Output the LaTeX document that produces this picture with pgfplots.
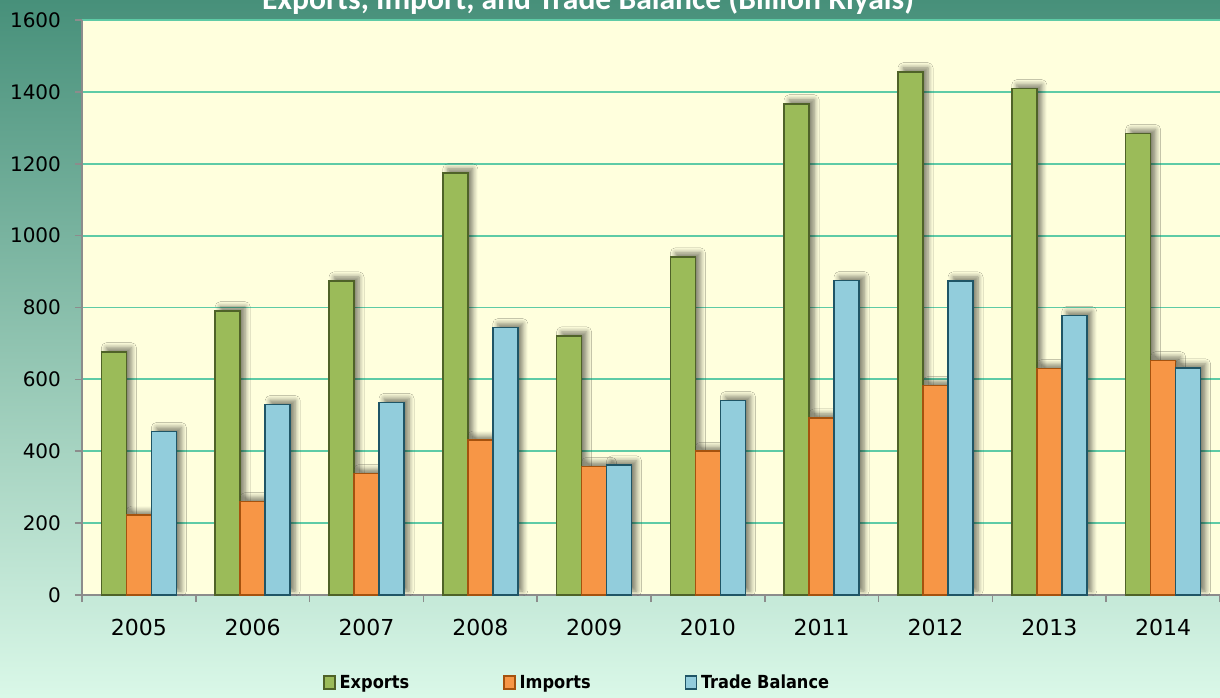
\documentclass[border=0pt]{standalone}
\usepackage{pgfplots}
\pgfplotsset{compat=1.18}
\usepackage{fontspec}
\setmainfont{DejaVu Sans}
\newfontfamily\titlefont{Carlito}
\newfontfamily\legfont{DejaVu Sans Condensed}
\usetikzlibrary{shadows.blur}
\definecolor{bgtop}{HTML}{47907A}
\definecolor{bgmid}{HTML}{68CFAC}
\definecolor{bgbot}{HTML}{DAF8E8}
\definecolor{plotbg}{HTML}{FFFFDD}
\definecolor{gridc}{HTML}{5ECBA6}
\definecolor{axc}{HTML}{8C8C8C}
\definecolor{gfill}{HTML}{9BBB59}
\definecolor{gdraw}{HTML}{4F6228}
\definecolor{ofill}{HTML}{F79646}
\definecolor{odraw}{HTML}{A5520E}
\definecolor{bfill}{HTML}{92CDDC}
\definecolor{bdraw}{HTML}{1F5566}
\pgfplotsset{
  gstyle/.style={fill=gfill, draw=gdraw},
  ostyle/.style={fill=ofill, draw=odraw},
  bstyle/.style={fill=bfill, draw=bdraw},
  shad/.style={blur shadow={shadow xshift=2.5pt, shadow yshift=2pt, shadow blur steps=6, shadow blur radius=2.5pt, shadow opacity=50}},
}
\begin{document}
\begin{tikzpicture}
\useasboundingbox (0,0) rectangle (610pt,348.5pt);
\begin{scope}
\clip (0,0) rectangle (610pt,348.5pt);
\shade[top color=bgtop, middle color=bgmid, bottom color=bgbot] (0,0) rectangle (610pt,348.5pt);
\node[anchor=base, text=white, font=\titlefont\bfseries\fontsize{15.8}{17}\selectfont] at (294pt,343.5pt) {Exports, Import, and Trade Balance (Billion Riyals)};
\end{scope}
\begin{axis}[
  at={(41pt,51pt)}, anchor=south west,
  scale only axis, width=569pt, height=287.5pt,
  ybar=0pt, bar width=12.5pt,
  xmin=-0.5, xmax=9.5, ymin=0, ymax=1600,
  xtick={0,...,9},
  xticklabels={2005,2006,2007,2008,2009,2010,2011,2012,2013,2014},
  minor xtick={-0.5,0.5,...,9.5},
  ytick={0,200,...,1600},
  axis x line=bottom, axis y line=left,
  axis line style={draw=axc, line width=0.8pt, -},
  tick align=outside, major tick length=3.5pt, minor tick length=3.5pt,
  major x tick style={draw=none},
  minor x tick style={draw=axc, line width=0.8pt},
  ytick style={draw=axc, line width=0.8pt},
  ymajorgrids, grid style={draw=gridc, line width=0.9pt},
  axis background/.style={fill=plotbg},
  /pgf/number format/1000 sep={},
  /pgf/number format/assume math mode=true,
  scaled y ticks=false,
  yticklabel style={font=\fontsize{10}{12}\selectfont, xshift=-3.5pt},
  xticklabel style={font=\fontsize{11}{13}\selectfont, yshift=-5pt},
  legend columns=3,
  legend style={at={(0.436,-0.153)}, anchor=center, draw=none, fill=none,
    font=\legfont\bfseries\fontsize{9}{11}\selectfont,
    /tikz/every even column/.append style={column sep=45pt}},
  legend image code/.code={\draw[#1, line width=0.7pt] (0pt,-3pt) rectangle (5.5pt,3.5pt);},
  every axis plot/.append style={line width=0.8pt},
]
\addlegendimage{gstyle}
\addlegendimage{ostyle}
\addlegendimage{bstyle}
\addplot[gstyle, shad] coordinates {(0,677) (1,791) (2,874) (3,1175) (4,721) (5,941) (6,1367) (7,1456) (8,1409) (9,1284)};
\addplot[ostyle, shad] coordinates {(0,222) (1,260) (2,338) (3,431) (4,358) (5,400) (6,493) (7,583) (8,630) (9,652)};
\addplot[bstyle, shad] coordinates {(0,455) (1,530) (2,536) (3,744) (4,362) (5,541) (6,875) (7,874) (8,778) (9,632)};
\legend{Exports, Imports, Trade Balance}
\end{axis}
\end{tikzpicture}
\end{document}
